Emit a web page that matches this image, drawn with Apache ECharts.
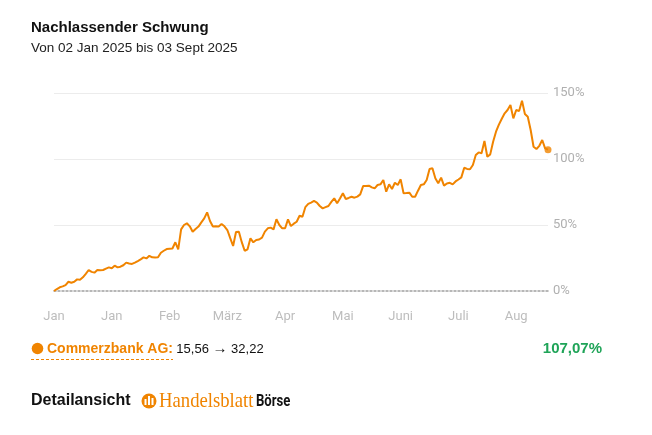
<!DOCTYPE html>
<html lang="de">
<head>
    <meta charset="UTF-8">
    <title>Nachlassender Schwung</title>
    <script src="https://cdn.jsdelivr.net/npm/echarts@6.0.0/dist/echarts.min.js"></script>
    <style>
        html, body { margin: 0; padding: 0; background: #fff; }
        #chart { width: 652px; height: 435px; }
    </style>
</head>
<body>
    <div id="chart"></div>
    <script>
        // Kursentwicklung Commerzbank AG in % seit 02.01.2025 (Handelstage bis 03.09.2025)
        const perfValues = [
            0, 1.5, 2.8, 3.5, 4.5, 7, 6.3, 7, 8.8, 8.5,
            10.4, 13, 15.9, 14.5, 13.9, 15.9, 15.7, 15.9, 17, 17.9,
            17.2, 19.2, 17.9, 18.4, 19.5, 21.5, 20.8, 20.5, 21.5, 22.7,
            24, 25.5, 24.7, 26.7, 25.5, 25.3, 25.5, 29, 30.5, 31.8,
            32, 32.2, 36.9, 31.6, 46.7, 50, 51.3, 49, 44.9, 47,
            48.8, 52, 55, 59.6, 53, 48.8, 49, 48.8, 50.8, 49,
            46.2, 40, 34.1, 44.7, 44.9, 37, 30.5, 31.6, 39.9, 36.9,
            38.6, 39, 40.4, 45, 47.5, 48, 46.7, 54.3, 50, 47.5,
            47.5, 54.3, 49.2, 51, 52.5, 57, 56.3, 63.5, 66, 67,
            68.2, 67, 64.4, 62.6, 63.5, 64.4, 67.5, 70.2, 66.4, 70,
            74, 69.7, 70.5, 71.4, 70.7, 71.5, 73.2, 79.5, 79.5, 79.8,
            78.5, 77.8, 80.3, 80.8, 84.1, 75.2, 80.8, 77.3, 82, 80.3,
            84.6, 74, 74.2, 74.5, 71.4, 71.4, 76, 80.3, 80.8, 84.1,
            92.4, 93, 85.4, 81.6, 85.9, 79.8, 81.5, 82, 80.8, 83,
            84.5, 86.1, 93.4, 92.5, 92.2, 95.5, 103, 105, 104.3, 113.6,
            101.7, 103.5, 113.1, 120.7, 126, 130.5, 134.6, 137.1, 140.9, 130.8,
            137.1, 136.4, 144.2, 134.1, 132, 122, 109.3, 107.6, 110, 114.4,
            108.1, 107.07
        ];
        // Achsenbeschriftung: jeder 20. Handelstag
        const monthLabels = ['Jan', 'Jan', 'Feb', 'März', 'Apr', 'Mai', 'Juni', 'Juli', 'Aug'];
        const labelStep = 20;
        const yTicks = [0, 50, 100, 150];

        const stockName = 'Commerzbank AG:';
        const priceStart = '15,56';
        const priceEnd = '32,22';
        const totalChange = '107,07%';

        const ORANGE = '#f08400';
        const FONT = 'Roboto, "Noto Sans", sans-serif';
        const TFONT = '"Liberation Sans", Arial, sans-serif';

        const categories = perfValues.map((v, i) => String(i));
        const lastIndex = perfValues.length - 1;

        const chart = echarts.init(document.getElementById('chart'));

        const option = {
            animation: false,
            backgroundColor: '#fff',
            textStyle: { fontFamily: FONT },
            grid: { left: 54, right: 104, top: 93, bottom: 144 },
            xAxis: {
                type: 'category',
                data: categories,
                boundaryGap: false,
                axisLine: {
                    show: true,
                    lineStyle: { color: '#a0a0a0', width: 1.5, type: [2, 2] }
                },
                axisTick: { show: false },
                splitLine: { show: false },
                axisLabel: {
                    interval: labelStep - 1,
                    color: '#bdbdbd',
                    fontSize: 13,
                    fontFamily: FONT,
                    margin: 19,
                    formatter: function (value, index) {
                        return monthLabels[Math.round(index / labelStep)] || '';
                    }
                }
            },
            yAxis: {
                type: 'value',
                position: 'right',
                min: yTicks[0],
                max: yTicks[yTicks.length - 1],
                interval: 50,
                axisLine: { show: false },
                axisTick: { show: false },
                axisLabel: {
                    color: '#b0b0b0',
                    fontSize: 13,
                    fontFamily: FONT,
                    margin: 5,
                    formatter: '{value}%'
                },
                splitLine: {
                    lineStyle: { color: ['rgba(0,0,0,0)', '#ececec', '#ececec', '#ececec'], width: 1 }
                }
            },
            series: [
                {
                    type: 'line',
                    data: perfValues,
                    showSymbol: false,
                    smooth: false,
                    lineStyle: { color: ORANGE, width: 2 },
                    itemStyle: { color: ORANGE },
                    z: 3
                },
                {
                    type: 'scatter',
                    data: [[lastIndex, perfValues[lastIndex]]],
                    symbol: 'circle',
                    symbolSize: 7,
                    itemStyle: { color: ORANGE },
                    z: 4
                }
            ],
            graphic: [
                {
                    type: 'text', x: 31, y: 28,
                    style: {
                        text: 'Nachlassender Schwung',
                        font: 'bold 15px ' + TFONT,
                        fill: '#111', verticalAlign: 'middle'
                    }
                },
                {
                    type: 'text', x: 31, y: 48,
                    style: {
                        text: 'Von 02 Jan 2025 bis 03 Sept 2025',
                        font: '13.5px ' + TFONT,
                        fill: '#222', verticalAlign: 'middle'
                    }
                },
                // Legende
                {
                    type: 'circle', shape: { cx: 37.5, cy: 348.5, r: 5.8 },
                    style: { fill: ORANGE }
                },
                {
                    type: 'text', x: 47, y: 349,
                    style: {
                        text: '{a|' + stockName + '} {b|' + priceStart + ' }{c|\u2192}{b| ' + priceEnd + '}',
                        verticalAlign: 'middle',
                        rich: {
                            a: { font: 'bold 14px ' + TFONT, fill: ORANGE },
                            b: { font: '13px ' + TFONT, fill: '#111' },
                            c: { font: '15px "Noto Sans", Roboto, sans-serif', fill: '#111' }
                        }
                    }
                },
                {
                    type: 'line', shape: { x1: 31, y1: 359.5, x2: 173, y2: 359.5 },
                    style: { stroke: ORANGE, lineWidth: 1, lineDash: [3, 2] }
                },
                {
                    type: 'text', x: 602, y: 349,
                    style: {
                        text: totalChange,
                        font: 'bold 15px ' + TFONT,
                        fill: '#1fa458', align: 'right', verticalAlign: 'middle'
                    }
                },
                // Fusszeile
                {
                    type: 'text', x: 31, y: 401,
                    style: {
                        text: 'Detailansicht',
                        font: 'bold 16px ' + TFONT,
                        fill: '#111', verticalAlign: 'middle'
                    }
                },
                {
                    type: 'circle', shape: { cx: 149, cy: 401, r: 7.5 },
                    style: { fill: ORANGE }
                },
                { type: 'rect', shape: { x: 144.5, y: 399, width: 2, height: 6 }, style: { fill: '#fff' } },
                { type: 'rect', shape: { x: 148, y: 396, width: 2, height: 9 }, style: { fill: '#fff' } },
                { type: 'rect', shape: { x: 151.5, y: 398, width: 2, height: 7 }, style: { fill: '#fff' } },
                {
                    type: 'text', x: 159, y: 401, scaleX: 0.89,
                    style: {
                        text: 'Handelsblatt',
                        font: '21px "Liberation Serif", "DejaVu Serif", serif',
                        fill: ORANGE, verticalAlign: 'middle'
                    }
                },
                {
                    type: 'text', x: 256, y: 402, scaleX: 0.82,
                    style: {
                        text: 'Börse',
                        font: 'bold 16px ' + FONT,
                        fill: '#111', verticalAlign: 'middle'
                    }
                }
            ]
        };

        chart.setOption(option);
    </script>
</body>
</html>
